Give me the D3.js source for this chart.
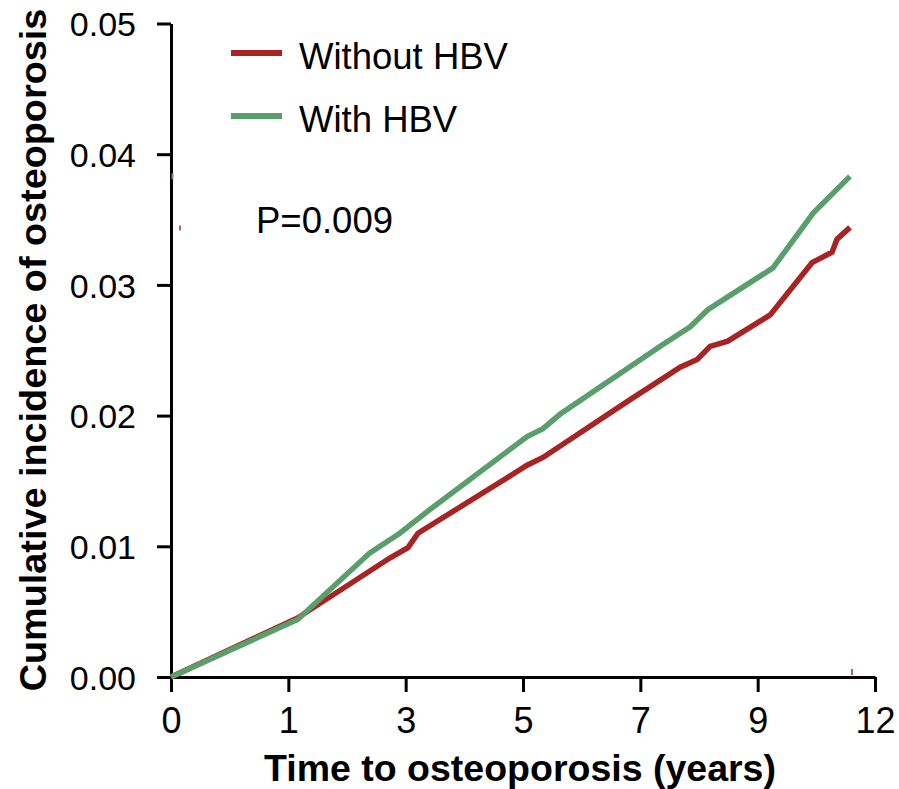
<!DOCTYPE html>
<html>
<head>
<meta charset="utf-8">
<script src="https://cdn.jsdelivr.net/npm/d3@7/dist/d3.min.js"></script>
<style>
  html, body { margin: 0; padding: 0; background: #fff; }
  svg { display: block; font-family: "Liberation Sans", Arial, sans-serif; }
</style>
</head>
<body>
<svg id="chart" width="899" height="789"></svg>
<script>
// Axis tick values and labels
const xTicks = [0, 1, 3, 5, 7, 9, 12];
const yTicks = [0, 0.01, 0.02, 0.03, 0.04, 0.05];

// Cumulative incidence curves (time in years, incidence)
const withoutTime = [0, 1.15, 2.73, 3.04, 3.21, 5.07, 5.34, 6.82, 7.68, 7.97, 8.19, 8.49, 9.32, 10.39, 10.90, 11.03, 11.36];
const withoutInc  = [0, 0.0045, 0.0091, 0.0099, 0.0110, 0.0162, 0.0168, 0.0212, 0.0237, 0.0243, 0.0253, 0.0257, 0.0277, 0.0317, 0.0325, 0.0335, 0.0344];

const withTime = [0, 1.16, 2.39, 2.90, 3.41, 5.07, 5.34, 5.63, 7.34, 7.85, 8.15, 9.39, 10.42, 11.36];
const withInc  = [0, 0.0044, 0.0095, 0.0110, 0.0128, 0.0184, 0.0190, 0.0201, 0.0253, 0.0268, 0.0281, 0.0313, 0.0355, 0.0383];

const seriesNames = ["Without HBV", "With HBV"];
const seriesColors = ["#A82323", "#5A9F6B"];
const pValueText = "P=0.009";

const svg = d3.select("#chart");
const plotLeft = 171, plotRight = 875, plotTop = 23.5, plotBottom = 677;

// Ticks are evenly spaced, so the time scale is piecewise linear over the tick values
const x = d3.scaleLinear()
  .domain(xTicks)
  .range(xTicks.map((d, i) => plotLeft + (plotRight - plotLeft) * i / (xTicks.length - 1)));
const y = d3.scaleLinear().domain([0, 0.05]).range([plotBottom, plotTop]);

// Y axis
const yAxis = svg.append("g")
  .attr("transform", `translate(${plotLeft},0)`)
  .call(d3.axisLeft(y).tickValues(yTicks).tickFormat(d3.format(".2f")).tickSize(14).tickSizeOuter(0));
yAxis.select(".domain").attr("stroke", "#000").attr("stroke-width", 3);
yAxis.selectAll(".tick line").attr("stroke", "#000").attr("stroke-width", 3);
yAxis.selectAll(".tick text")
  .attr("x", -35)
  .attr("dy", "0.36em")
  .attr("font-size", 34)
  .attr("fill", "#000")
  .attr("font-family", "Liberation Sans, Arial, sans-serif");

// X axis
const xAxis = svg.append("g")
  .attr("transform", `translate(0,${plotBottom})`)
  .call(d3.axisBottom(x).tickValues(xTicks).tickFormat(d3.format("d")).tickSize(15).tickSizeOuter(0));
xAxis.select(".domain").attr("stroke", "#000").attr("stroke-width", 3);
xAxis.selectAll(".tick text")
  .attr("y", 30)
  .attr("dy", "0.71em")
  .attr("font-size", 36)
  .attr("fill", "#000")
  .attr("font-family", "Liberation Sans, Arial, sans-serif");
xAxis.selectAll(".tick line").attr("stroke", "#000").attr("stroke-width", 3);

// Axis titles
svg.append("text")
  .attr("x", 520).attr("y", 781)
  .attr("text-anchor", "middle")
  .attr("font-weight", "bold")
  .attr("font-size", 37.5)
  .text("Time to osteoporosis (years)");

svg.append("text")
  .attr("transform", "translate(46,350) rotate(-90)")
  .attr("text-anchor", "middle")
  .attr("font-weight", "bold")
  .attr("font-size", 37.8)
  .text("Cumulative incidence of osteoporosis");

// Curves
const line = d3.line().x(d => x(d[0])).y(d => y(d[1]));
const series = [
  d3.zip(withoutTime, withoutInc),
  d3.zip(withTime, withInc)
];
series.forEach((pts, i) => {
  svg.append("path")
    .datum(pts)
    .attr("fill", "none")
    .attr("stroke", seriesColors[i])
    .attr("stroke-width", 5.5)
    .attr("stroke-linejoin", "miter")
    .attr("d", line);
});

// Small end-value markers at the axes
const lastRed = withoutInc[withoutInc.length - 1];
const lastGreen = withInc[withInc.length - 1];
svg.append("line")
  .attr("x1", plotLeft + 1.5).attr("x2", plotLeft + 1.5)
  .attr("y1", y(lastGreen) - 3).attr("y2", y(lastGreen) + 3)
  .attr("stroke", seriesColors[1]).attr("stroke-width", 2);
svg.append("line")
  .attr("x1", plotLeft + 9).attr("x2", plotLeft + 9)
  .attr("y1", y(lastRed) - 2).attr("y2", y(lastRed) + 3)
  .attr("stroke", seriesColors[0]).attr("stroke-width", 1.5);
svg.append("line")
  .attr("x1", x(withoutTime[withoutTime.length - 1]) + 2).attr("x2", x(withoutTime[withoutTime.length - 1]) + 2)
  .attr("y1", plotBottom - 8).attr("y2", plotBottom - 2)
  .attr("stroke", seriesColors[0]).attr("stroke-width", 1.5);

// Legend
const legend = svg.append("g");
seriesNames.forEach((name, i) => {
  const cy = 53 + i * 63;
  legend.append("line")
    .attr("x1", 231).attr("x2", 282)
    .attr("y1", cy).attr("y2", cy)
    .attr("stroke", seriesColors[i])
    .attr("stroke-width", 6);
  legend.append("text")
    .attr("x", 299).attr("y", cy + 16)
    .attr("font-size", 36.5)
    .attr("fill", "#000")
    .text(name);
});

// P-value annotation
svg.append("text")
  .attr("x", 256).attr("y", 233)
  .attr("font-size", 36.5)
  .attr("fill", "#000")
  .text(pValueText);
</script>
</body>
</html>
